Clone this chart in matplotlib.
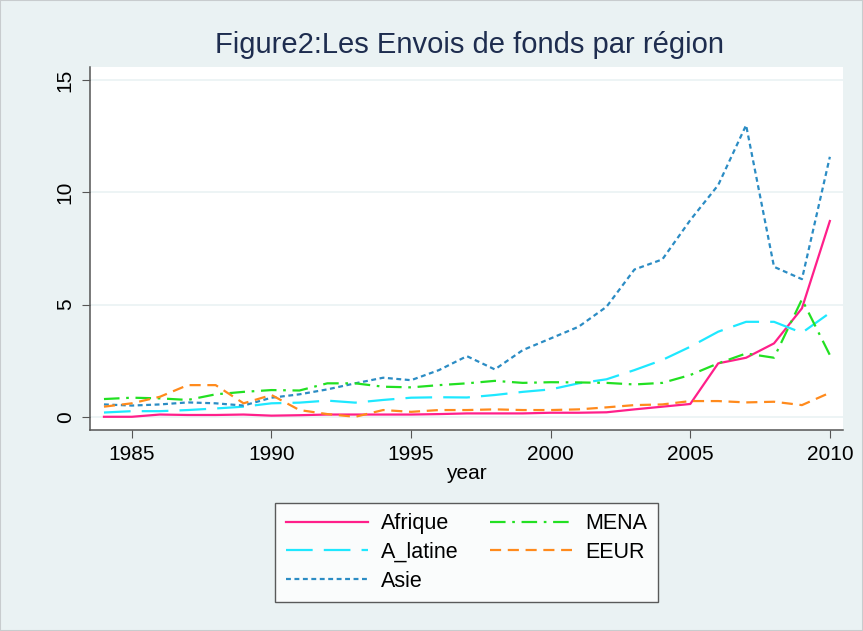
import matplotlib
matplotlib.use("Agg")
import matplotlib.pyplot as plt

plt.rcParams["font.family"] = ["Liberation Sans", "DejaVu Sans"]

years = list(range(1984, 2011))

afrique = [0.0, 0.0, 0.1, 0.08, 0.08, 0.1, 0.05, 0.07, 0.1, 0.1, 0.1, 0.1, 0.12,
           0.15, 0.15, 0.15, 0.18, 0.18, 0.2, 0.33, 0.45, 0.57, 2.38, 2.63, 3.27,
           4.83, 8.72]
a_latine = [0.19, 0.25, 0.25, 0.3, 0.37, 0.45, 0.6, 0.63, 0.72, 0.63, 0.75, 0.85,
            0.87, 0.86, 0.97, 1.11, 1.22, 1.49, 1.67, 2.08, 2.53, 3.12, 3.79, 4.23,
            4.23, 3.74, 4.63]
asie = [0.55, 0.5, 0.55, 0.64, 0.6, 0.5, 0.85, 1.0, 1.22, 1.49, 1.74, 1.63, 2.08,
        2.7, 2.11, 2.97, 3.49, 4.01, 4.9, 6.56, 7.01, 8.76, 10.32, 12.99, 6.68,
        6.13, 11.58]
mena = [0.79, 0.85, 0.82, 0.75, 1.0, 1.11, 1.19, 1.17, 1.49, 1.49, 1.34, 1.31, 1.41,
        1.49, 1.6, 1.51, 1.54, 1.53, 1.51, 1.44, 1.51, 1.86, 2.38, 2.82, 2.63,
        5.23, 2.75]
eeur = [0.45, 0.6, 0.89, 1.41, 1.41, 0.6, 0.97, 0.3, 0.12, 0.0, 0.3, 0.22, 0.3,
        0.3, 0.33, 0.3, 0.3, 0.33, 0.42, 0.52, 0.55, 0.7, 0.7, 0.64, 0.67, 0.52,
        1.07]

BG = "#EAF2F3"

fig = plt.figure(figsize=(8.63, 6.31), dpi=100, facecolor=BG)
ax = fig.add_axes([0.1043, 0.3185, 0.8725, 0.5753])
ax.set_facecolor("white")

lw = 1.6
ax.plot(years, afrique, color="#FF1F8A", lw=lw, label="Afrique")
ax.plot(years, a_latine, color="#1EE8FF", lw=lw, dashes=(12, 5), label="A_latine")
ax.plot(years, asie, color="#2B8CC4", lw=lw, dashes=(2.2, 1.6), label="Asie")
ax.plot(years, mena, color="#22E022", lw=lw, dashes=(7, 3, 1.2, 3), label="MENA")
ax.plot(years, eeur, color="#FF8A1C", lw=lw, dashes=(5, 3), label="EEUR")

ax.set_xlim(1983.5, 2010.47)
ax.set_ylim(-0.59, 15.58)
ax.set_xticks([1985, 1990, 1995, 2000, 2005, 2010])
ax.set_yticks([0, 5, 10, 15])
ax.yaxis.grid(True, color=BG, lw=1.2)
ax.set_axisbelow(True)
for s in ["top", "right"]:
    ax.spines[s].set_visible(False)
for s in ["left", "bottom"]:
    ax.spines[s].set_color("#555555")
    ax.spines[s].set_linewidth(1.1)
ax.tick_params(axis="both", labelsize=15, length=6, color="#555555",
               direction="out", pad=5)
ax.tick_params(axis="y", labelrotation=90)
for t in ax.get_yticklabels():
    t.set_va("center")
ax.set_xlabel("year", fontsize=15, labelpad=0)

fig.text(0.5446, 0.9287, "Figure2:Les Envois de fonds par région", ha="center",
         va="center", fontsize=21, color="#1E2D4F")

leg = fig.legend(loc="center", bbox_to_anchor=(0.5406, 0.1244),
                 ncol=2, fontsize=15.5, frameon=True, fancybox=False,
                 edgecolor="#333333", handlelength=3.8, columnspacing=1.5,
                 handletextpad=0.6, labelspacing=0.35, borderpad=0.5)
leg.get_frame().set_linewidth(1.0)

fig.patches.append(plt.Rectangle((0, 0), 1, 1, transform=fig.transFigure,
                                 fill=False, edgecolor="#C8CCCE", lw=1.5))

fig.savefig("out.png", dpi=100, facecolor=BG)
